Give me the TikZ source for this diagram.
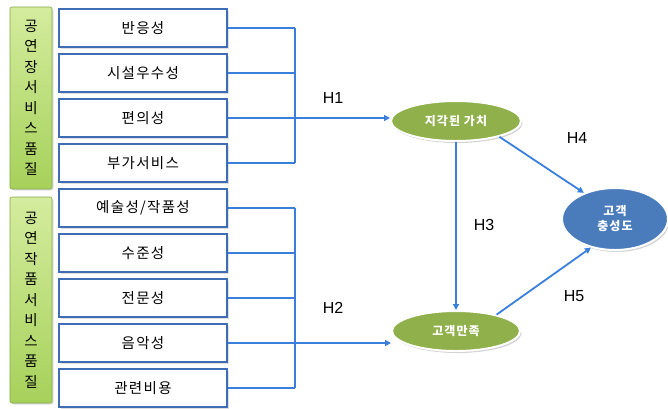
\documentclass[tikz,border=0pt]{standalone}
\usepackage{fontspec}
\setmainfont{Noto Sans CJK KR}
\newfontfamily\spacedfont[LetterSpace=9]{Noto Sans CJK KR}
\newfontfamily\hfont{Liberation Sans}
\usetikzlibrary{shapes.geometric,shadows,arrows.meta}
\definecolor{boxblue}{HTML}{3E6DB5}
\definecolor{linkblue}{HTML}{3A7FDC}
\definecolor{greenA}{HTML}{D4EC9E}
\definecolor{greenB}{HTML}{A6D15A}
\definecolor{ellgreen}{HTML}{8FB04A}
\definecolor{ellblue}{HTML}{4A7CBC}
\tikzset{
  itembox/.style={draw=boxblue, line width=2.2pt, fill=white, minimum width=168pt, minimum height=38pt, inner sep=0pt, font=\spacedfont\fontsize{14.5}{16}\selectfont, drop shadow={opacity=0.25, shadow xshift=1.5pt, shadow yshift=-1.5pt}},
  sidebar/.style={draw=greenB!80!black, line width=0.6pt, rounded corners=2pt, top color=greenA, bottom color=greenB, minimum width=42pt, inner sep=0pt, align=center, font=\fontsize{14.5}{20.5}\selectfont, drop shadow={opacity=0.25, shadow xshift=1.5pt, shadow yshift=-1.5pt}},
  link/.style={draw=linkblue, line width=1.8pt},
  arr/.style={link, -{Triangle[length=6pt,width=6pt]}},
  latent/.style={ellipse, draw=white, line width=2pt, text=white, inner sep=0pt, font=\spacedfont\bfseries\fontsize{12}{15}\selectfont, align=center, drop shadow={opacity=0.35, shadow xshift=1.5pt, shadow yshift=-2pt}},
  hlab/.style={font=\hfont\fontsize{16}{18}\selectfont, inner sep=0pt}
}
\begin{document}
\begin{tikzpicture}[x=1pt,y=-1pt]
\useasboundingbox (0,0) rectangle (668,408);
% side bars
\node[sidebar, minimum height=182pt] (g1) at (31,98) {공\\연\\장\\서\\비\\스\\품\\질};
\node[sidebar, minimum height=206pt] (g2) at (31,300) {공\\연\\작\\품\\서\\비\\스\\품\\질};
% boxes
\node[itembox] (b1) at (143,28) {반응성};
\node[itembox] (b2) at (143,73) {시설우수성};
\node[itembox] (b3) at (143,118) {편의성};
\node[itembox] (b4) at (143,163) {부가서비스};
\node[itembox] (b5) at (143,208) {예술성/작품성};
\node[itembox] (b6) at (143,253) {수준성};
\node[itembox] (b7) at (143,298) {전문성};
\node[itembox] (b8) at (143,343) {음악성};
\node[itembox] (b9) at (143,388) {관련비용};
% bus coordinate
\coordinate (busA) at (295,0);
% ellipses
\node[latent, fill=ellgreen, minimum width=130pt, minimum height=40pt] (pv) at (456,121) {지각된 가치};
\node[latent, fill=ellgreen, minimum width=128pt, minimum height=40pt] (cs) at (456,331) {고객만족};
\node[latent, fill=ellblue, minimum width=106pt, minimum height=62pt] (cl) at (615,219) {고객\\충성도};
% connectors
\foreach \b in {b1,b2,b3,b4}{\draw[link] (\b.east) -- (\b.east -| busA);}
\draw[link] (b1.east -| busA) -- (b4.east -| busA);
\foreach \b in {b5,b6,b7,b8,b9}{\draw[link] (\b.east) -- (\b.east -| busA);}
\draw[link] (b5.east -| busA) -- (b9.east -| busA);
\draw[arr] (b3.east -| busA) -- (b3.east -| pv.west);
\draw[arr] (b8.east -| busA) -- (b8.east -| cs.west);
\draw[arr] (pv.south) -- (cs.north);
\draw[arr] (pv.-20) -- (cl.140);
\draw[arr] (cs.22) -- (cl.-130);
% labels
\node[hlab] (h1) at (333,98) {H1};
\node[hlab] (h2) at (333,308) {H2};
\node[hlab] (h3) at (484,225) {H3};
\node[hlab] (h4) at (577,138) {H4};
\node[hlab] (h5) at (574,296) {H5};
\end{tikzpicture}
\end{document}
